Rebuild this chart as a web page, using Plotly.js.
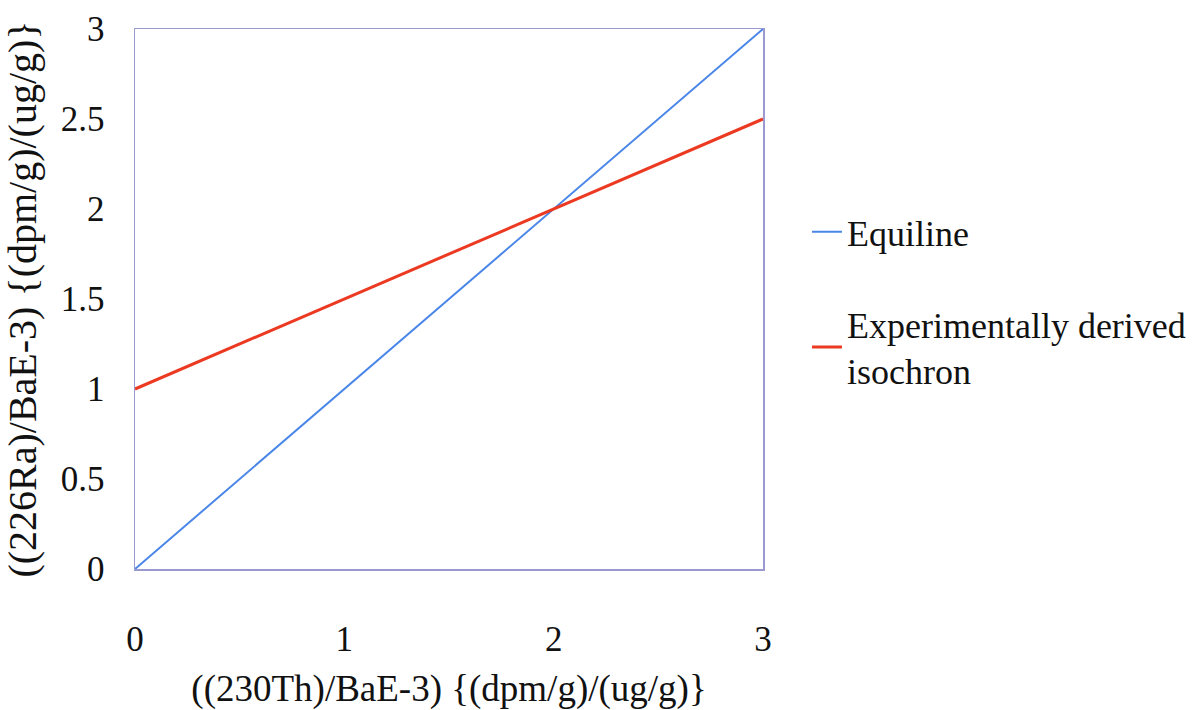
<!DOCTYPE html>
<html>
<head>
<meta charset="utf-8">
<script src="https://cdn.plot.ly/plotly-3.0.1.min.js"></script>
<style>html,body{margin:0;padding:0;background:#fff;}#chart{width:1201px;height:710px;}</style>
</head>
<body>
<div id="chart"></div>
<script>
const equilineX = [0, 1, 2, 3];
const equilineY = [0, 1, 2, 3];
const isochronX = [0, 1, 2, 3];
const isochronY = [1, 1.5, 2, 2.5];
const seriesNames = ["Equiline", "Experimentally derived<br>isochron"];
const xTicks = [0, 1, 2, 3];
const yTicks = [0, 0.5, 1, 1.5, 2, 2.5, 3];

const font = "Liberation Serif, Times New Roman, serif";

const traces = [
  {x: equilineX, y: equilineY, mode: "lines", name: seriesNames[0], legendgroup: "a",
   line: {color: "#4a86e8", width: 2}},
  {x: isochronX, y: isochronY, mode: "lines", name: seriesNames[1], legendgroup: "b",
   line: {color: "#ec3a22", width: 3}}
];

const layout = {
  width: 1201, height: 710,
  margin: {l: 135, r: 438, t: 29, b: 141, autoexpand: false},
  paper_bgcolor: "#fff", plot_bgcolor: "#fff",
  font: {family: font, color: "#111", size: 35},
  showlegend: true,
  legend: {x: 1.07, y: 0.68, xanchor: "left", yanchor: "top", traceorder: "grouped",
           tracegroupgap: 42, font: {family: font, size: 36, color: "#111"},
           itemwidth: 30, bgcolor: "rgba(0,0,0,0)"},
  xaxis: {range: [0, 3], tickvals: xTicks, ticktext: xTicks.map(String),
          showgrid: false, zeroline: false, showline: true, mirror: true,
          linecolor: "#9a9ad0", linewidth: 1.5,
          ticks: "outside", ticklen: 38, tickcolor: "rgba(0,0,0,0)",
          tickfont: {family: font, size: 35, color: "#111"},
          title: {text: "((230Th)/BaE-3) {(dpm/g)/(ug/g)}", standoff: 20,
                  font: {family: font, size: 37, color: "#111"}}},
  yaxis: {range: [0, 3], tickvals: yTicks, ticktext: yTicks.map(String),
          showgrid: false, zeroline: false, showline: true, mirror: true,
          linecolor: "#9a9ad0", linewidth: 1.5,
          ticks: "outside", ticklen: 22, tickcolor: "rgba(0,0,0,0)",
          tickfont: {family: font, size: 35, color: "#111"},
          title: {text: "((226Ra)/BaE-3) {(dpm/g)/(ug/g)}", standoff: 12,
                  font: {family: font, size: 40, color: "#111"}}}
};

Plotly.newPlot("chart", traces, layout, {displayModeBar: false, staticPlot: true});
</script>
</body>
</html>
